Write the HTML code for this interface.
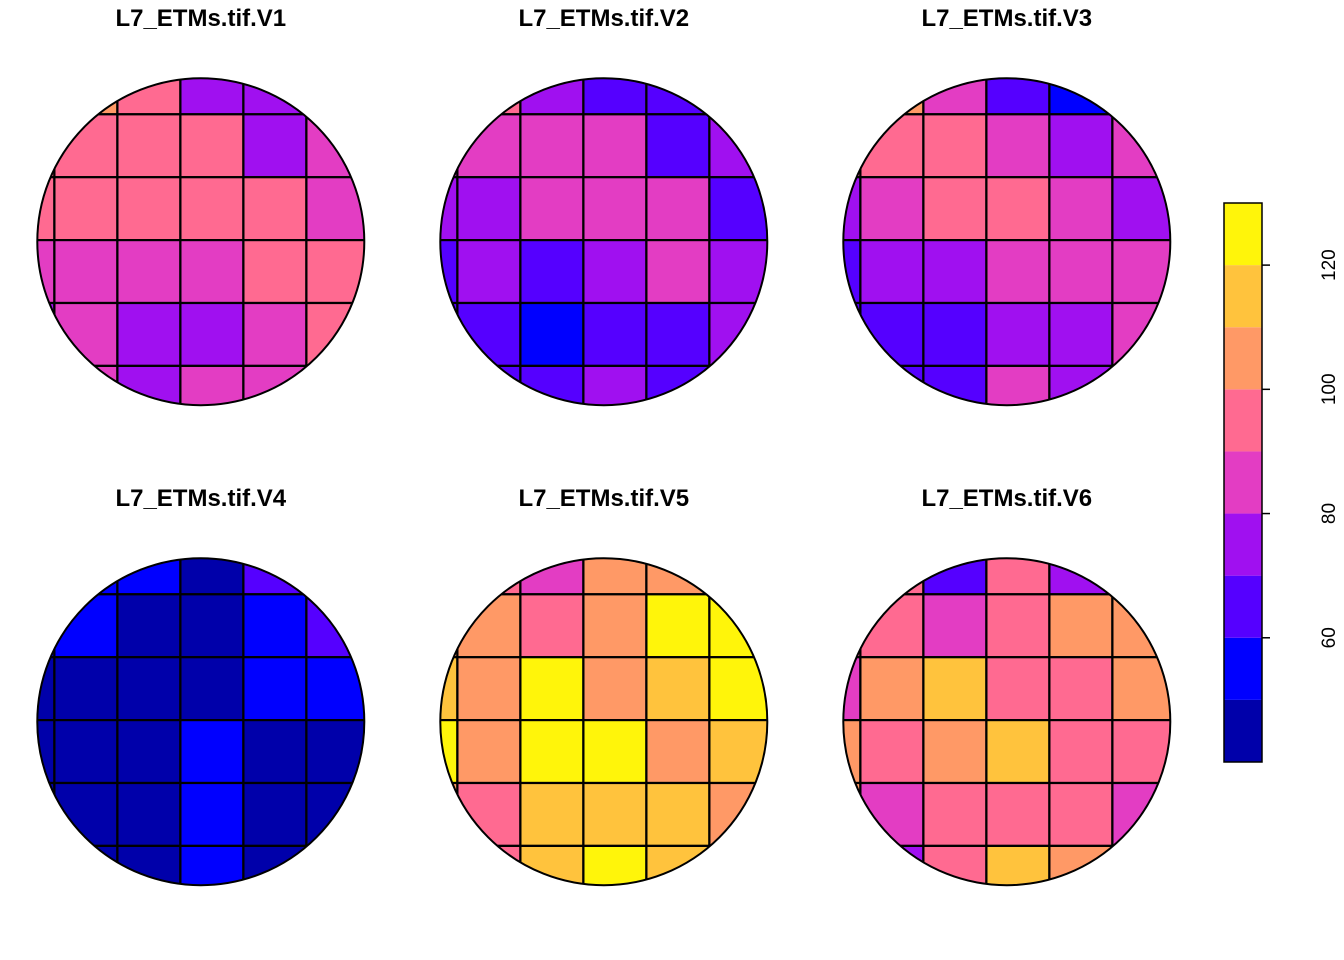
<!DOCTYPE html>
<html><head><meta charset="utf-8">
<style>
html,body{margin:0;padding:0;background:#fff;}
svg{display:block;}
text{font-family:"Liberation Sans",Arial,sans-serif;}
</style></head>
<body>
<svg id="chart" width="1344" height="960" viewBox="0 0 1344 960" xmlns="http://www.w3.org/2000/svg"></svg>
<script>
// ---- data ----
const panelTitles = ["L7_ETMs.tif.V1","L7_ETMs.tif.V2","L7_ETMs.tif.V3","L7_ETMs.tif.V4","L7_ETMs.tif.V5","L7_ETMs.tif.V6"];
const breaks = [40,50,60,70,80,90,100,110,120,130];
const palette = ["#0000AA","#0000FF","#5500FF","#A010F0","#E33DC3","#FF6A91","#FF9966","#FFC33D","#FFF50A"];
const tickValues = [60,80,100,120];
const tickLabels = ["60","80","100","120"];
// cell values per band (6 rows x 6 cols, top row first)
const bandV1 = [[95,105,95,75,75,95],[95,95,95,95,75,85],[95,95,95,95,95,85],[85,85,85,85,95,95],[75,85,75,75,85,95],[85,85,75,85,85,95]];
const bandV2 = [[85,95,75,65,65,75],[85,85,85,85,65,75],[75,75,85,85,85,65],[65,75,65,75,85,75],[65,65,55,65,65,75],[65,65,65,75,65,75]];
const bandV3 = [[95,105,85,65,55,85],[95,95,95,85,75,85],[75,85,95,95,85,75],[65,75,75,85,85,85],[65,65,65,75,75,85],[65,65,65,85,75,85]];
const bandV4 = [[45,55,55,45,65,65],[55,55,45,45,55,65],[45,45,45,45,55,55],[45,45,45,55,45,45],[45,45,45,55,45,45],[45,45,45,55,45,45]];
const bandV5 = [[105,95,85,105,105,125],[105,105,95,105,125,125],[115,105,125,105,115,125],[125,105,125,125,105,115],[105,95,115,115,115,105],[95,95,115,125,115,105]];
const bandV6 = [[95,95,65,95,75,105],[95,95,85,95,105,105],[85,105,115,95,95,105],[105,95,105,115,95,95],[105,85,95,95,95,85],[75,75,95,115,105,85]];
const bands = [bandV1,bandV2,bandV3,bandV4,bandV5,bandV6];

// ---- layout ----
const NS="http://www.w3.org/2000/svg";
const svg=document.getElementById('chart');
const R=163.5, cellW=63, cellH=62.9;
const centersX=[200.8,603.8,1006.8], centersY=[241.7,721.7];
const titleY=[26,506];
function colorOf(v){
  for(let i=0;i<breaks.length-1;i++){ if(v>=breaks[i]&&v<breaks[i+1]) return palette[i]; }
  return v<breaks[0]?palette[0]:palette[palette.length-1];
}
function mk(tag,attrs){const e=document.createElementNS(NS,tag);for(const k in attrs)e.setAttribute(k,attrs[k]);return e;}
const defs=mk('defs',{});svg.appendChild(defs);

bands.forEach((band,p)=>{
  const cx=centersX[p%3], cy=centersY[Math.floor(p/3)];
  const g=mk('g',{});
  
  
  svg.appendChild(g);
  const t=mk('text',{x:cx,y:titleY[Math.floor(p/3)],'text-anchor':'middle','font-size':'24','font-weight':'bold',fill:'#000'});
  t.textContent=panelTitles[p];
  
  
  g.appendChild(t);
  const cp=mk('clipPath',{id:'clip'+p});
  cp.appendChild(mk('circle',{cx:cx,cy:cy,r:R}));
  defs.appendChild(cp);
  const cg=mk('g',{'clip-path':'url(#clip'+p+')'});
  g.appendChild(cg);
  const x0=cx-209.4, y0=cy-190.3;
  band.forEach((row,r)=>{
    row.forEach((v,c)=>{
      const rect=mk('rect',{x:x0+c*cellW,y:y0+r*cellH,width:cellW,height:cellH,fill:colorOf(v),stroke:'#000','stroke-width':'2.2'});
      
      
      cg.appendChild(rect);
    });
  });
  const outline=mk('circle',{cx:cx,cy:cy,r:R,fill:'none',stroke:'#000','stroke-width':'2'});
  
  
  g.appendChild(outline);
});

// ---- colour bar ----
const barX=1224, barW=38, barTop=203, barBot=762;
function yScale(v){return barBot-(v-breaks[0])/(breaks[breaks.length-1]-breaks[0])*(barBot-barTop);}
const lg=mk('g',{});


svg.appendChild(lg);
for(let i=0;i<palette.length;i++){
  const y1=yScale(breaks[i+1]), y2=yScale(breaks[i]);
  const rc=mk('rect',{x:barX,y:y1,width:barW,height:y2-y1,fill:palette[i]});
  
  
  lg.appendChild(rc);
}
const fr=mk('rect',{x:barX,y:barTop,width:barW,height:barBot-barTop,fill:'none',stroke:'#000','stroke-width':'1.5'});


lg.appendChild(fr);
tickValues.forEach((v,i)=>{
  const y=yScale(v);
  const tk=mk('line',{x1:barX+barW,x2:barX+barW+8,y1:y,y2:y,stroke:'#000','stroke-width':'1.5'});
  
  
  lg.appendChild(tk);
  const tx=mk('text',{x:0,y:0,'text-anchor':'middle','font-size':'19',fill:'#000',transform:'translate(1335,'+y+') rotate(-90)'});
  tx.textContent=tickLabels[i];
  
  
  lg.appendChild(tx);
});
</script>
</body></html>
